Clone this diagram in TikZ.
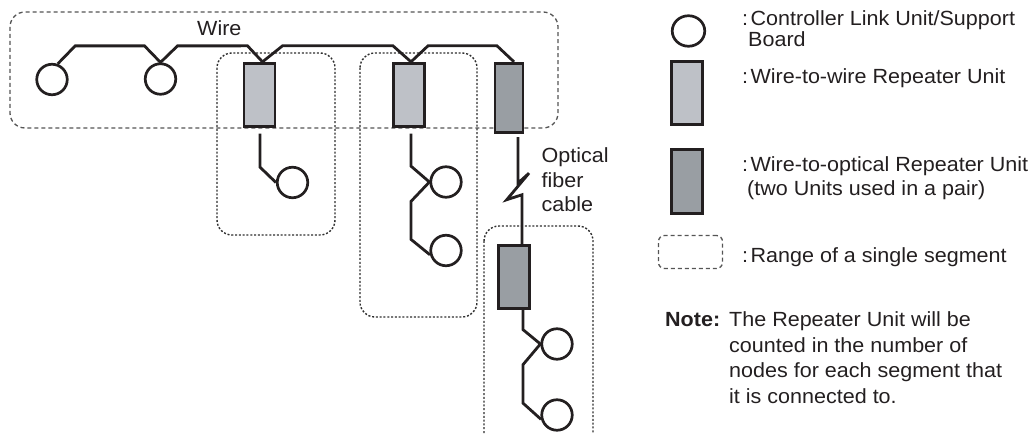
\documentclass[tikz,border=0pt]{standalone}
\usepackage{fontspec}
\setmainfont{Liberation Sans}[FakeStretch=1.05]
\usetikzlibrary{calc,shapes.geometric}
\definecolor{ink}{HTML}{231F20}
\definecolor{lightfill}{HTML}{BEC1C7}
\definecolor{darkfill}{HTML}{999EA3}
\definecolor{segdash}{HTML}{555555}
\definecolor{segdot}{HTML}{2E2E2E}
\newcommand{\colsp}{:\hspace{0.12em}}
\tikzset{
  unit/.style={circle, draw=ink, line width=2.7bp, minimum size=30.5bp, inner sep=0pt},
  wwrep/.style={rectangle, draw=ink, fill=lightfill, line width=2.8bp, minimum width=31bp, minimum height=63.5bp, inner sep=0pt},
  worep/.style={wwrep, fill=darkfill},
  wire/.style={draw=ink, line width=2.8bp},
  wideseg/.style={draw=segdash, line width=1.3bp, dash pattern=on 4bp off 3bp, rounded corners=15bp},
  segbox/.style={draw=segdot, line width=1.4bp, dash pattern=on 2bp off 1.8bp, rounded corners=15bp},
  lbl/.style={anchor=base west, inner sep=0pt, font=\fontsize{20.5bp}{22bp}\selectfont, text=ink},
}
\begin{document}
\begin{tikzpicture}[x=1bp,y=-1bp]
\useasboundingbox (0,0) rectangle (1031,434);
\clip (0,0) rectangle (1031,434);
% segments
\draw[wideseg] (10,12) rectangle (558,128);
\draw[segbox] (217,53) rectangle (335,235);
\draw[segbox] (360,53) rectangle (477,317);
\draw[segbox] (484,226) rectangle (593,452);
% units
\node[unit] (c1) at (52,79.5) {};
\node[unit] (c2) at (160.5,79) {};
\node[wwrep] (r1) at (259.5,95) {};
\node[wwrep] (r2) at (409,95) {};
\node[worep, minimum width=28bp, minimum height=69.5bp] (r3) at (509,98) {};
\node[unit] (c3) at (292.5,182.5) {};
\node[unit] (c4) at (446,182) {};
\node[unit] (c5) at (446,250.5) {};
\node[worep] (r4) at (514,277) {};
\node[unit] (c6) at (557,344) {};
\node[unit] (c7) at (557,415) {};
% wire
\draw[wire] (c1.70) -- ++(17.5,-18) -- ($(c2.north)+(-16,-16.5)$) -- (c2.north) -- ++(17,-16.5)
  -- ($(r1.north)+(-12,-16)$) -- ($(r1.north)+(3,0)$) -- ++(20,-16)
  -- ($(r2.north)+(-16,-16)$) -- ($(r2.north)+(2,0)$) -- ++(17,-16)
  -- ($(r3.north)+(-12,-16)$) -- ($(r3.north)+(5,0)$);
\draw[wire] ($(r1.south)+(0.5,5.5)$) -- ($(r1.south)+(0.5,39)$) -- (c3.west);
\draw[wire] ($(r2.south)+(2,5.5)$) -- ($(r2.south)+(2,38)$) -- (c4.west)
  -- ($(r2.south)+(2,73.25)$) -- ($(r2.south)+(2,111.25)$) -- (c5.195);
\draw[wire] ($(r3.south)+(9,3)$) -- ($(r3.south)+(9,49)$) -- ++(11,-10) -- ++(-22.3,26.6) -- ++(15.3,-5) -- ($(r4.north)+(8,0)$);
\draw[wire] ($(r4.south)+(9,0)$) -- ($(r4.south)+(9,19.5)$) -- (c6.west)
  -- ($(r4.south)+(9,54.5)$) -- ($(r4.south)+(9,93)$) -- (c7.195);
% labels
\node[lbl] (wirelbl) at (197,36) {Wire};
\node[lbl] (opt1) at (541.5,163) {Optical};
\node[lbl] (opt2) at (541.5,188) {fiber};
\node[lbl] (opt3) at (541.5,212) {cable};
% legend
\node[ellipse, draw=ink, line width=2.7bp, minimum width=32.5bp, minimum height=30.5bp, inner sep=0pt] (lgunit) at (688.5,31) {};
\node[wwrep] (lgww) at (687,93) {};
\node[worep, minimum height=64.5bp] (lgwo) at (687,181.5) {};
\node[draw=segdash, line width=1.3bp, dash pattern=on 4bp off 3bp, rounded corners=6bp, minimum width=64bp, minimum height=33bp, inner sep=0pt] (lgseg) at (690.5,252) {};
\node[lbl] (t1) at (742,26) {\colsp Controller Link Unit/Support};
\node[lbl] (t1b) at (748,46.7) {Board};
\node[lbl] (t2) at (742,84) {\colsp Wire-to-wire Repeater Unit};
\node[lbl] (t3) at (742,171.5) {\colsp Wire-to-optical Repeater Unit};
\node[lbl] (t3b) at (747,195.5) {(two Units used in a pair)};
\node[lbl] (t4) at (742,263) {\colsp Range of a single segment};
\node[lbl] (note) at (665,327) {\textbf{Note:}};
\node[lbl] (n1) at (729,327) {The Repeater Unit will be};
\node[lbl] (n2) at (729,352.5) {counted in the number of};
\node[lbl] (n3) at (729,378) {nodes for each segment that};
\node[lbl] (n4) at (729,403.5) {it is connected to.};
\end{tikzpicture}
\end{document}
